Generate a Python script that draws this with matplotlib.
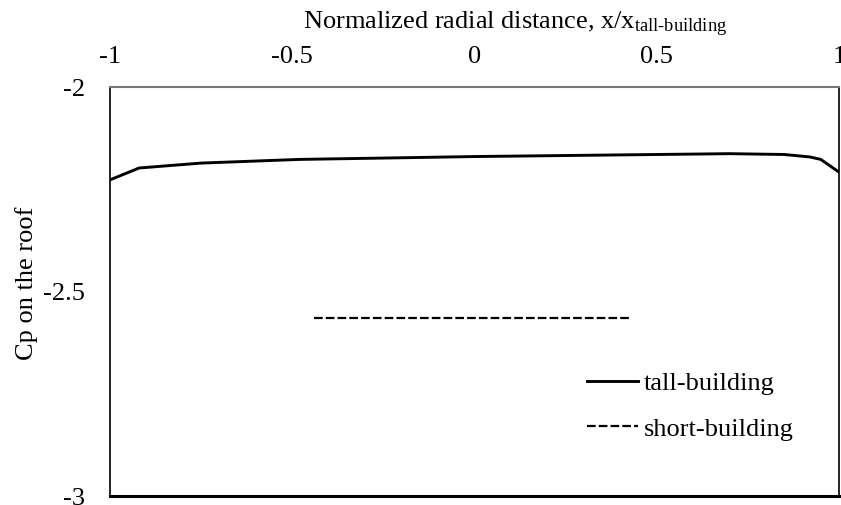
import numpy as np
import matplotlib
matplotlib.use('Agg')
import matplotlib.pyplot as plt
matplotlib.rcParams['font.family'] = ['Liberation Serif', 'DejaVu Serif']
matplotlib.rcParams['mathtext.fontset'] = 'custom'
matplotlib.rcParams['mathtext.rm'] = 'Liberation Serif'
matplotlib.rcParams['mathtext.it'] = 'Liberation Serif:italic'

# tall-building Cp along the roof
tall_x = [-1.0, -0.92, -0.75, -0.48, -0.2, 0.0, 0.3, 0.5, 0.7, 0.85, 0.92, 0.95, 1.0]
tall_y = [-2.227, -2.198, -2.186, -2.177, -2.173, -2.170, -2.167, -2.165, -2.163, -2.165, -2.171, -2.177, -2.208]

# short-building Cp
short_x = [-0.44, 0.43]
short_y = [-2.565, -2.565]

xticks = [-1, -0.5, 0, 0.5, 1]
xtick_labels = ['-1', '-0.5', '0', '0.5', '1']
yticks = [-3, -2.5, -2]
ytick_labels = ['-3', '-2.5', '-2']

fs = 19

fig = plt.figure(figsize=(8.41, 5.05), dpi=100)
ax = fig.add_axes([0.1308, 0.0178, 0.8668, 0.8099])

ax.plot(tall_x, tall_y, color='black', lw=2.1, label='tall-building')
ax.plot(short_x, short_y, color='black', lw=1.6, dashes=(3.9, 1.4), label='short-building')

ax.set_xlim(-1, 1)
ax.set_ylim(-3, -2)
ax.xaxis.tick_top()
ax.xaxis.set_label_position('top')
ax.set_xticks(xticks)
ax.set_xticklabels(xtick_labels)
ax.set_yticks(yticks)
ax.set_yticklabels(ytick_labels)
ax.tick_params(axis='both', length=0, labelsize=fs)
ax.tick_params(axis='x', pad=14)
ax.tick_params(axis='y', pad=18)

ax.set_xlabel('Normalized radial distance, x/x$_{\\mathrm{tall\\text{-}building}}$', fontsize=fs, labelpad=12)
ax.xaxis.label.set_x(0.556)
ax.set_ylabel('Cp on the roof', fontsize=fs, labelpad=4)
ax.yaxis.label.set_y(0.52)

ax.spines['top'].set_color('#777777')
ax.spines['top'].set_linewidth(1.5)
ax.spines['left'].set_linewidth(1.2)
ax.spines['bottom'].set_linewidth(2.2)
ax.spines['right'].set_linewidth(1.2)

leg = ax.legend(loc='upper left', bbox_to_anchor=(0.654, 0.305), frameon=False, fontsize=fs,
                borderpad=0, borderaxespad=0, handlelength=1.95, handletextpad=0.2, labelspacing=0.85)

fig.savefig('out.png', dpi=100)
